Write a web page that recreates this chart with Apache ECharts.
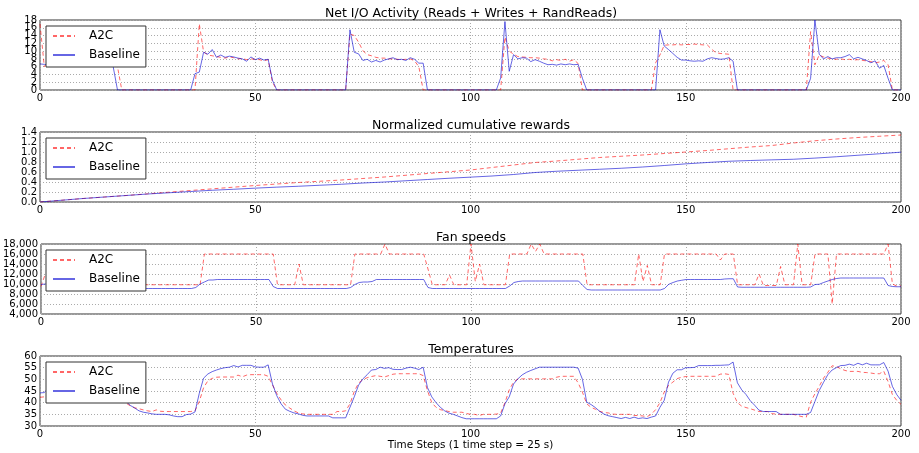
<!DOCTYPE html>
<html>
<head>
<meta charset="utf-8">
<script src="https://cdn.jsdelivr.net/npm/echarts@6/dist/echarts.min.js"></script>
<style>html,body{margin:0;padding:0;background:#fff;}#c{width:919px;height:453px;}</style>
</head>
<body>
<div id="c"></div>
<script>
// ---- data (one value per time step 0..200) ----
var titles = ['Net I/O Activity (Reads + Writes + RandReads)', 'Normalized cumulative rewards', 'Fan speeds', 'Temperatures'];
var xTicks = [0, 50, 100, 150, 200];
var xLabel = 'Time Steps (1 time step = 25 s)';
var ioTickLabels = ['0', '2', '4', '6', '8', '10', '12', '14', '16', '18'];

var ioA2C = [
17.0,6.0,7.5,7.2,7.8,7.0,7.4,7.6,7.1,7.3,
7.5,7.0,7.2,6.9,7.1,6.8,6.5,6.4,6.0,0,
0,0,0,0,0,0,0,0,0,0,
0,0,0,0,0,0,0,17.0,9.8,9.0,
8.8,8.6,8.4,8.2,8.5,8.3,8.0,8.1,7.8,8.0,
7.9,7.8,7.5,7.8,2.0,0,0,0,0,0,
0,0,0,0,0,0,0,0,0,0,
0,0,14.4,14.0,12.3,10.1,9.1,8.8,8.4,8.2,
8.2,8.0,8.0,7.9,7.8,7.9,8.0,7.5,6.0,0,
0,0,0,0,0,0,0,0,0,0,
0,0,0,0,0,0,0,0,13.6,10.0,
9.2,8.6,8.5,8.4,8.3,8.3,8.2,8.0,7.9,7.5,
7.8,7.6,7.9,7.4,7.8,6.8,0,0,0,0,
0,0,0,0,0,0,0,0,0,0,
0,0,0,7.0,9.0,11.5,11.6,11.6,11.7,11.6,
11.7,11.7,11.8,11.7,11.6,11.6,10.5,9.6,9.4,9.3,
9.2,0,0,0,0,0,0,0,0,0,
0,0,0,0,0,0,0,0,0,15.0,
6.5,9.0,8.5,8.2,8.0,7.9,8.0,7.8,7.9,7.7,
7.8,7.6,7.5,7.3,7.0,7.2,7.6,6.5,0,0,
0];
var ioBaseline = [
6.7,6.6,6.5,7.0,7.2,6.8,7.0,7.3,6.9,7.1,
6.8,7.0,6.7,6.9,6.6,6.8,6.4,6.0,0,0,
0,0,0,0,0,0,0,0,0,0,
0,0,0,0,0,0,4.2,4.6,9.7,9.2,
10.4,8.4,9.0,8.4,8.7,8.5,8.2,8.0,7.4,8.5,
7.8,8.2,7.7,7.9,2.5,0,0,0,0,0,
0,0,0,0,0,0,0,0,0,0,
0,0,15.5,9.7,9.3,7.6,7.9,7.2,7.6,7.2,
7.7,8.0,8.3,7.8,7.9,7.6,8.3,7.9,6.9,6.9,
0,0,0,0,0,0,0,0,0,0,
0,0,0,0,0,0,0,3.1,17.6,4.8,
9.1,8.0,8.3,8.2,7.3,7.8,7.4,6.9,6.5,6.6,
6.4,6.7,6.5,6.7,6.5,6.6,3.0,0,0,0,
0,0,0,0,0,0,0,0,0,0,
0,0,0,0,15.5,11.3,10.4,9.4,8.4,7.7,
7.7,7.5,7.4,7.5,7.4,8.0,8.3,8.1,7.9,8.0,
8.3,7.4,0,0,0,0,0,0,0,0,
0,0,0,0,0,0,0,0,0,3.0,
18.0,9.2,8.0,8.6,8.0,8.3,8.3,8.6,9.1,8.0,
8.4,8.0,7.6,7.0,7.5,5.6,6.3,3.0,0,0,
0];

// cumulative rewards, sampled every 5 time steps
var rewardSteps = [0,5,10,15,20,25,30,35,40,45,50,55,60,65,70,75,80,85,90,95,100,105,110,115,120,125,130,135,140,145,150,155,160,165,170,175,180,185,190,195,200];
var rewardA2C = [0.0,0.035,0.07,0.10,0.13,0.163,0.197,0.23,0.263,0.297,0.33,0.36,0.39,0.415,0.44,0.47,0.50,0.535,0.57,0.605,0.64,0.69,0.74,0.79,0.82,0.855,0.89,0.915,0.94,0.97,1.0,1.03,1.065,1.10,1.13,1.18,1.225,1.26,1.29,1.315,1.34];
var rewardBaseline = [0.0,0.035,0.07,0.10,0.13,0.16,0.185,0.21,0.235,0.255,0.277,0.297,0.315,0.335,0.355,0.38,0.40,0.425,0.45,0.475,0.497,0.52,0.55,0.59,0.615,0.635,0.655,0.675,0.70,0.73,0.763,0.79,0.815,0.83,0.843,0.855,0.878,0.905,0.935,0.965,0.997];

var fanA2C = [
9500,12000,12000,12000,12000,12000,12000,12000,12000,12000,
12000,12000,12000,12000,12000,12000,12000,12000,10000,9850,
9850,9850,9850,9850,9850,9850,9850,9850,9850,9850,
9850,9850,9850,9850,9850,9850,9850,9850,16000,16000,
16000,16000,16000,16000,16000,16000,16000,16000,16000,16000,
16000,16000,16000,16000,16000,9850,9850,9850,9850,9850,
14000,9850,9850,9850,9850,9850,9850,9850,9850,9850,
9850,9850,9850,16000,16000,16000,16000,16000,16000,16000,
18000,16000,16000,16000,16000,16000,16000,16000,16000,16000,
13000,9850,9850,9850,9850,11800,9850,9850,9850,9850,
18000,10500,14000,9850,9850,9850,9850,9850,9850,16000,
16000,16000,16000,16000,18000,16500,18000,16000,16000,16000,
16000,16000,16000,16000,16000,16000,16000,9850,9850,9850,
9850,9850,9850,9850,9850,9850,9850,9850,9850,16000,
10500,13700,9850,9850,9850,16000,16000,16000,16000,16000,
16000,16000,16000,16000,16000,16000,16000,16000,14800,16000,
16000,16000,9850,9850,9850,9850,9850,12000,9700,9700,
9700,9700,13500,9850,9850,9850,18000,9850,9850,9850,
16000,16000,16000,16000,6000,16000,16000,16000,16000,16000,
16000,16000,16000,16000,16000,16000,16000,18000,10000,9600,
9600];
var fanBaseline = [
9900,10000,10000,10000,10000,10000,10000,10000,10000,10000,
10000,10000,10000,10000,10000,10000,10000,10000,9800,9400,
9100,9100,9100,9100,9100,9100,9100,9100,9100,9100,
9100,9100,9100,9100,9100,9100,9300,10000,10400,10800,
10800,10900,10900,10900,10900,10900,10900,10900,10900,10900,
10900,10900,10900,10900,9500,9100,9100,9100,9100,9100,
9100,9100,9100,9100,9100,9100,9100,9100,9100,9100,
9100,9100,9300,9900,10300,10400,10400,10500,10900,10900,
10900,10900,10900,10900,10900,10900,10900,10900,10900,10900,
9300,9100,9100,9100,9100,9100,9100,9100,9100,9100,
9100,9100,9100,9100,9100,9100,9100,9100,9100,9600,
10300,10500,10600,10600,10600,10600,10600,10600,10600,10600,
10600,10600,10600,10600,10600,10600,9700,8900,8800,8800,
8800,8800,8800,8800,8800,8800,8800,8800,8800,8800,
8800,8800,8800,8800,8800,9100,9950,10300,10600,10750,
10900,10900,10900,10900,10900,10900,10900,10900,10900,11000,
11050,11050,9400,9350,9350,9350,9350,9350,9350,9350,
9350,9350,9350,9350,9350,9350,9350,9350,9350,9400,
9900,9950,10300,10600,10900,11100,11200,11200,11200,11200,
11200,11200,11200,11200,11200,11200,11200,9700,9500,9450,
9450];

var tempA2C = [
42.3,42.5,44.0,45.5,46.5,47.0,47.2,47.3,47.5,47.4,
47.5,47.6,47.5,47.4,47.5,47.3,47.2,46.0,43.5,41.0,
39.8,38.6,37.8,37.4,36.9,36.5,36.2,36.9,36.3,36.2,
36.2,36.2,36.2,36.2,36.2,36.2,36.5,40.5,46.4,49.4,
50.4,50.9,51.0,51.0,51.0,51.0,51.8,51.1,51.8,52.0,
52.0,52.0,52.0,51.3,47.6,44.0,41.2,39.0,37.7,36.5,
35.6,35.2,35.0,35.0,35.0,35.0,35.0,35.0,35.0,36.2,
36.2,36.5,39.5,44.8,48.4,49.9,50.7,51.2,51.6,51.3,
51.0,51.6,52.2,52.4,52.4,52.4,52.4,52.4,52.4,51.6,
45.2,40.0,38.0,37.0,36.6,36.2,35.9,35.9,35.9,35.4,
35.0,35.0,34.5,35.0,35.0,35.0,35.1,35.5,40.0,45.5,
48.8,50.2,50.2,50.2,50.2,50.2,50.2,50.2,50.2,50.2,
50.9,51.3,51.3,51.3,51.3,48.5,44.5,39.5,38.0,37.2,
36.3,35.8,35.6,35.1,35.0,35.0,35.0,35.0,34.5,34.5,
34.3,34.0,35.0,37.0,40.0,44.5,47.4,48.8,50.3,50.9,
51.2,51.3,51.3,51.3,51.3,51.3,51.3,51.3,52.2,52.4,
52.1,44.0,40.0,38.5,37.9,37.4,36.8,36.2,36.2,36.2,
35.3,35.1,35.0,35.0,35.0,35.0,34.5,34.0,33.8,40.2,
43.8,47.0,50.5,53.0,55.8,55.5,54.5,53.8,53.4,53.4,
53.4,53.0,52.9,52.7,52.4,52.4,53.5,49.0,43.5,41.0,
39.3];
var tempBaseline = [
44.2,44.3,46.5,48.0,49.0,49.5,50.0,50.2,50.3,50.5,
50.5,50.6,50.5,50.7,50.6,50.5,50.4,49.0,46.0,43.0,
40.5,38.8,37.7,36.5,35.9,35.6,35.2,35.0,35.0,35.0,
34.8,34.3,34.0,34.0,34.9,35.1,36.0,44.0,50.5,52.3,
53.3,54.0,54.6,55.0,55.2,55.9,55.3,56.0,56.0,56.0,
55.3,55.2,55.2,56.2,48.0,43.0,39.5,37.2,36.3,35.6,
35.2,34.6,34.3,34.3,34.3,34.3,34.3,34.3,33.5,33.5,
33.5,33.5,38.0,42.5,47.5,50.2,52.0,54.0,54.2,55.2,
54.7,55.0,54.3,54.2,54.2,54.8,55.2,54.8,54.2,55.2,
46.5,42.5,40.0,38.0,36.5,35.5,35.0,34.3,33.6,33.1,
33.1,33.1,33.1,33.1,33.1,33.1,33.1,34.3,39.5,42.5,
48.0,50.2,51.9,53.0,53.8,54.5,55.2,55.2,55.2,55.2,
55.2,55.2,55.2,55.2,55.2,54.8,50.0,40.2,39.2,37.9,
36.3,35.1,34.4,34.0,33.6,33.2,33.7,33.2,33.8,33.2,
33.5,33.2,33.8,34.3,38.0,41.0,48.8,52.6,54.1,54.1,
55.0,55.0,55.1,55.9,55.9,55.9,55.9,56.0,56.0,56.1,
56.2,57.4,48.5,45.5,43.5,40.8,38.9,36.8,36.2,36.2,
36.2,36.2,35.0,35.0,35.0,35.0,35.0,35.0,35.0,35.8,
40.5,45.2,48.7,52.0,54.0,55.0,55.9,56.0,56.5,56.0,
56.9,56.2,56.9,56.2,56.2,56.2,57.2,53.5,47.0,43.5,
41.0];

var yAxes = [
  {min: 0, max: 18, interval: 2},
  {min: 0, max: 1.4, interval: 0.2},
  {min: 4000, max: 18000, interval: 2000},
  {min: 30, max: 60, interval: 5}
];

// ---- chart ----
var steps = ioA2C.map(function (_, i) { return i; });
function pairs(xs, ys) { return ys.map(function (v, i) { return [xs[i], v]; }); }

var RED = 'rgba(255,0,0,0.6)';
var BLUE = 'rgba(0,0,210,0.6)';
var FONT = 'DejaVu Sans';
var panelTop = [20, 132, 244, 356];

var seriesData = [
  [pairs(steps, ioA2C), pairs(steps, ioBaseline)],
  [pairs(rewardSteps, rewardA2C), pairs(rewardSteps, rewardBaseline)],
  [pairs(steps, fanA2C), pairs(steps, fanBaseline)],
  [pairs(steps, tempA2C), pairs(steps, tempBaseline)]
];

var labelStyle = {fontSize: 10, color: '#000', margin: 3, fontFamily: FONT};
var gridLine = {show: true, lineStyle: {color: '#aaa', type: [1, 2], width: 1}};

var grids = [], xAxes = [], yAxisOpts = [], legends = [], series = [], titleOpts = [];
for (var i = 0; i < 4; i++) {
  grids.push({left: 40, right: 18, top: panelTop[i], height: 70, show: true,
    borderColor: '#333', borderWidth: 1, backgroundColor: 'transparent'});
  titleOpts.push({text: titles[i], left: 471, top: panelTop[i] - 13, textAlign: 'center', padding: 0,
    textStyle: {fontSize: 12.5, fontWeight: 'normal', color: '#000', fontFamily: FONT}});
  var xa = {type: 'value', gridIndex: i, min: xTicks[0], max: xTicks[xTicks.length - 1],
    interval: xTicks[1] - xTicks[0],
    axisLine: {show: false}, axisTick: {show: false},
    axisLabel: Object.assign({showMinLabel: true, showMaxLabel: true}, labelStyle),
    splitLine: gridLine};
  if (i === 3) {
    xa.name = xLabel; xa.nameLocation = 'middle'; xa.nameGap = 14;
    xa.nameTextStyle = {fontSize: 10.4, color: '#000', fontFamily: FONT};
  }
  xAxes.push(xa);
  var ya = {type: 'value', gridIndex: i, min: yAxes[i].min, max: yAxes[i].max, interval: yAxes[i].interval,
    axisLine: {show: false}, axisTick: {show: false},
    axisLabel: Object.assign({showMinLabel: true, showMaxLabel: true}, labelStyle),
    splitLine: gridLine};
  if (i === 0) ya.axisLabel = {show: false};
  if (i === 1) ya.axisLabel.formatter = function (v) { return v.toFixed(1); };
  yAxisOpts.push(ya);
  legends.push({data: ['A2C', 'Baseline'], orient: 'vertical', left: 46, top: panelTop[i] + 6,
    backgroundColor: '#fff', borderColor: '#333', borderWidth: 1, borderRadius: 0,
    padding: [4, 6, 6, 6], itemGap: 7, itemWidth: 22, itemHeight: 12,
    itemStyle: {opacity: 0},
    textStyle: {fontSize: 12, color: '#000', fontFamily: FONT, padding: [0, 0, 0, 9]}});
  series.push({name: 'A2C', type: 'line', xAxisIndex: i, yAxisIndex: i, data: seriesData[i][0],
    symbol: 'none', showSymbol: false, color: RED, lineStyle: {color: RED, width: 1, type: [4, 3]}, z: 2});
  series.push({name: 'Baseline', type: 'line', xAxisIndex: i, yAxisIndex: i, data: seriesData[i][1],
    symbol: 'none', showSymbol: false, color: BLUE, lineStyle: {color: BLUE, width: 1}, z: 3});
}
// tick-label axis for the I/O panel (densely packed labels, all shown)
yAxisOpts.push({type: 'category', gridIndex: 0, data: ioTickLabels, boundaryGap: false, position: 'left',
  axisLine: {show: false}, axisTick: {show: false}, splitLine: {show: false},
  axisLabel: Object.assign({interval: 0, hideOverlap: false}, labelStyle)});

var chart = echarts.init(document.getElementById('c'), null, {renderer: 'canvas'});
chart.setOption({
  animation: false,
  backgroundColor: '#fff',
  textStyle: {fontFamily: FONT},
  title: titleOpts,
  grid: grids,
  xAxis: xAxes,
  yAxis: yAxisOpts,
  legend: legends,
  series: series
});
</script>
</body>
</html>
